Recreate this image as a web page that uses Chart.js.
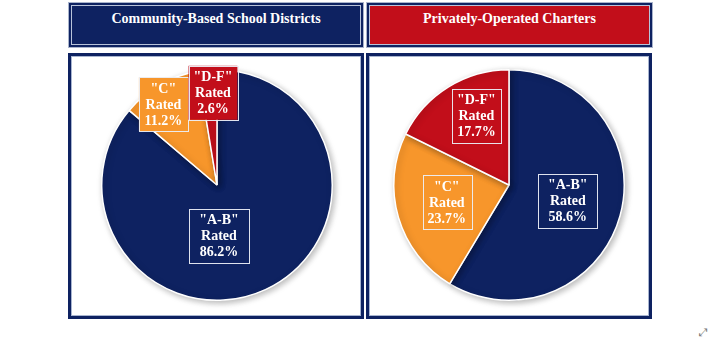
<!DOCTYPE html>
<html>
<head>
<meta charset="utf-8">
<script src="https://cdn.jsdelivr.net/npm/chart.js@4.4.0/dist/chart.umd.min.js"></script>
<style>
  html, body { margin:0; padding:0; background:#fff; }
  body { width:721px; height:351px; position:relative; overflow:hidden; font-family:"Liberation Serif","Times New Roman",serif; }
  .hdr { position:absolute; box-sizing:border-box; border:2px solid #0e2261;
         box-shadow: 0 0 0 1px #a9b4cc, inset 0 0 0 1px #b8c3da;
         color:#fff; font-weight:bold; font-size:14px; text-align:center; padding-top:6px; }
  .panel { position:absolute; box-sizing:border-box; border:3px solid #0e2261;
           box-shadow: inset 0 0 0 1px #a8b5d0; background:#fff; }
  canvas.pie { position:absolute; }
  .icon { position:absolute; left:699px; top:326px; color:#777; font-family:"DejaVu Sans"; font-size:11px; }
</style>
</head>
<body>
<div class="hdr" style="left:69px;top:3px;width:294px;height:44px;background:#0e2261;">Community-Based School Districts</div>
<div class="hdr" style="left:367px;top:3px;width:285px;height:44px;background:#c20e1a;">Privately-Operated Charters</div>
<div class="panel" style="left:68px;top:53px;width:296px;height:266px;"></div>
<div class="panel" style="left:366px;top:53px;width:286px;height:266px;"></div>
<canvas id="c1" class="pie" width="250" height="250" style="left:92px;top:60px;width:250px;height:250px;"></canvas>
<canvas id="c2" class="pie" width="250" height="250" style="left:384px;top:60px;width:250px;height:250px;"></canvas>
<div class="icon">⤢</div>
<script>
const categories = ['"A-B"', '"C"', '"D-F"'];
const districtValues = [86.2, 11.2, 2.6];
const charterValues = [58.6, 23.7, 17.7];
const sliceColors = ['#0e2261', '#f7962b', '#c20e1a'];

// label box placement (relative to pie center, in radius units) and box widths
const districtLabelPos = [[0.017, 0.44], [-0.465, -0.70], [-0.035, -0.80]];
const charterLabelPos = [[0.51, 0.135], [-0.54, 0.148], [-0.283, -0.60]];
const districtBoxW = [60, 49, 48];
const charterBoxW = [59, 48, 46];

const shadowPlugin = {
  id: 'shadow',
  beforeDatasetsDraw(chart) {
    const ctx = chart.ctx;
    ctx.save();
    ctx.shadowColor = 'rgba(0,0,0,0.28)';
    ctx.shadowBlur = 6;
    ctx.shadowOffsetX = 2;
    ctx.shadowOffsetY = 2;
  },
  afterDatasetsDraw(chart) { chart.ctx.restore(); }
};

const labelPlugin = {
  id: 'boxLabels',
  afterDraw(chart, args, opts) {
    const ctx = chart.ctx;
    const meta = chart.getDatasetMeta(0);
    const data = chart.data.datasets[0].data;
    meta.data.forEach((arc, i) => {
      const p = arc.getProps(['x', 'y', 'outerRadius'], true);
      const pos = opts.positions[i];
      const cx = p.x + pos[0] * p.outerRadius;
      const cy = p.y + pos[1] * p.outerRadius;
      const lines = [chart.data.labels[i], 'Rated', data[i].toFixed(1) + '%'];
      ctx.save();
      ctx.font = 'bold 14px "Liberation Serif", "Times New Roman", serif';
      let w = 0;
      lines.forEach(l => { w = Math.max(w, ctx.measureText(l).width); });
      const lh = 16;
      const bw = Math.max(w + 10, opts.widths[i]);
      const bh = lines.length * lh + 6;
      ctx.fillStyle = sliceColors[i];
      ctx.fillRect(cx - bw / 2, cy - bh / 2, bw, bh);
      ctx.strokeStyle = 'rgba(235,238,245,0.95)';
      ctx.lineWidth = 1;
      ctx.strokeRect(Math.round(cx - bw / 2) + 0.5, Math.round(cy - bh / 2) + 0.5, Math.round(bw), Math.round(bh));
      ctx.fillStyle = '#ffffff';
      ctx.textAlign = 'center';
      ctx.textBaseline = 'middle';
      lines.forEach((l, k) => {
        ctx.fillText(l, cx, cy - bh / 2 + 3 + lh * (k + 0.5) + 1);
      });
      ctx.restore();
    });
  }
};

function makePie(id, values, positions, widths) {
  return new Chart(document.getElementById(id), {
    type: 'pie',
    data: {
      labels: categories,
      datasets: [{
        data: values,
        backgroundColor: sliceColors,
        borderColor: '#ffffff',
        borderWidth: 1.5
      }]
    },
    options: {
      responsive: false,
      animation: false,
      rotation: 0,
      layout: { padding: 9 },
      plugins: {
        legend: { display: false },
        tooltip: { enabled: false },
        boxLabels: { positions: positions, widths: widths }
      }
    },
    plugins: [shadowPlugin, labelPlugin]
  });
}

makePie('c1', districtValues, districtLabelPos, districtBoxW);
makePie('c2', charterValues, charterLabelPos, charterBoxW);
</script>
</body>
</html>
